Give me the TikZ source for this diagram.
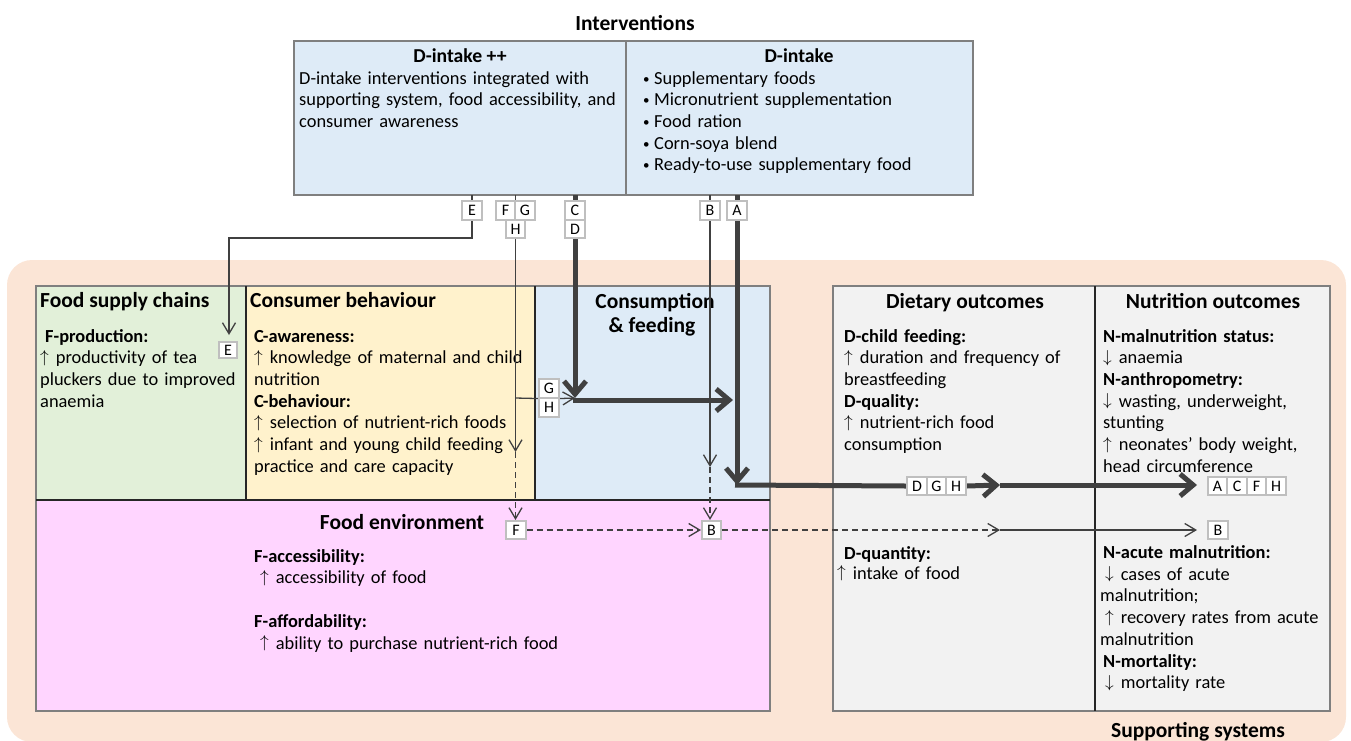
\documentclass[tikz,border=0pt]{standalone}
\usepackage{fontspec}
\setmainfont{Carlito}
\usetikzlibrary{arrows.meta}
\definecolor{supportpeach}{HTML}{FBE5D6}
\definecolor{chaingreen}{HTML}{E2F0D9}
\definecolor{behavyellow}{HTML}{FFF2CC}
\definecolor{feedblue}{HTML}{DEEBF7}
\definecolor{envpink}{HTML}{FFD5FF}
\definecolor{outcomegray}{HTML}{F2F2F2}
\definecolor{frameline}{HTML}{7F7F7F}
\definecolor{divline}{HTML}{262626}
\definecolor{linkline}{HTML}{404040}
\definecolor{tagline}{HTML}{BFBFBF}
% thin, tall arrows used in front of each effect
\newcommand\uparr{\raisebox{1.5pt}{$\uparrow$}\hspace{7pt}}
\newcommand\downarr{\raisebox{1.5pt}{$\downarrow$}\hspace{7pt}}
\newcommand\bul{\makebox[11pt][l]{\fontsize{13}{13}\selectfont\raisebox{1pt}{•}}}
\pgfdeclarelayer{back}
\pgfdeclarelayer{front}
\pgfsetlayers{back,main,front}
\tikzset{
  panel/.style={draw=frameline, line width=1.8pt, anchor=north west, inner sep=0pt, outer sep=0pt},
  head/.style={font=\bfseries\fontsize{21.5}{24.5}\selectfont, inner sep=0pt, anchor=base},
  subhead/.style={font=\bfseries\fontsize{19.7}{22}\selectfont, inner sep=0pt, anchor=base},
  body/.style={font=\fontsize{18.4}{21.7}\selectfont, inner sep=0pt, align=left, text width=#1, anchor=base west},
  body/.default=300pt,
  tag/.style={draw=tagline, line width=1.6pt, fill=white, minimum width=19.5pt, minimum height=18.5pt, inner sep=0pt, font=\fontsize{16}{16}\selectfont},
  thinlink/.style={draw=linkline, line width=1.3pt},
  dashedlink/.style={thinlink, dash pattern=on 6pt off 4pt},
  boldlink/.style={draw=linkline, line width=5pt},
  thintip/.style={-{Straight Barb[length=11pt,width=13pt]}},
  boldtip/.style={-{Straight Barb[length=13pt,width=22pt]}},
  divider/.style={draw=divline, line width=1.8pt}
}
\begin{document}
\begin{tikzpicture}[x=1pt,y=-1pt]
\useasboundingbox (0,0) rectangle (1351,740);

% ---------- panels ----------
\begin{pgfonlayer}{back}
\fill[supportpeach, rounded corners=25pt] (7,260) rectangle (1346,742);
\node[panel, fill=chaingreen, minimum width=210pt, minimum height=214pt] (chain) at (36,286) {};
\node[panel, fill=behavyellow, minimum width=289pt, minimum height=214pt] (behav) at (246,286) {};
\node[panel, fill=feedblue, minimum width=235pt, minimum height=214pt] (feed) at (535,286) {};
\node[panel, fill=envpink, minimum width=734pt, minimum height=211pt] (env) at (36,500) {};
\node[panel, fill=outcomegray, minimum width=262pt, minimum height=425pt] (diet) at (833,286) {};
\node[panel, fill=outcomegray, minimum width=235pt, minimum height=425pt] (nutr) at (1095,286) {};
\draw[divider] (chain.north east) -- (chain.south east);
\draw[divider] (behav.north east) -- (behav.south east);
\draw[divider] (env.north west) -- (env.north east);
\draw[divider] (diet.north east) -- (diet.south east);
% interventions box
\node[panel, fill=feedblue, minimum width=332pt, minimum height=154pt] (ivl) at (294,41) {};
\node[panel, fill=feedblue, minimum width=347pt, minimum height=154pt] (ivr) at (626,41) {};
\end{pgfonlayer}

% ---------- texts ----------
\node[head] (ivtitle) at (635,30) {Interventions};
\node[subhead] (ivlhead) at (460,62) {D-intake ++};
\node[subhead] (ivrhead) at (799,62) {D-intake};
\node[body=330pt] (ivltext) at (299,84) {D-intake interventions integrated with\\supporting system, food accessibility, and\\consumer awareness};
\node[body=320pt] (ivrtext) at (643,84) {\bul Supplementary foods\\\bul Micronutrient supplementation\\\bul Food ration\\\bul Corn-soya blend\\\bul Ready-to-use supplementary food};

\node[head, anchor=base west] (chainhead) at (40,307) {Food supply chains};
\node[head, anchor=base west] (behavhead) at (250,307) {Consumer behaviour};
\node[head] (feedheada) at (655,308) {Consumption};
\node[head] (feedheadb) at (652,332) {\& feeding};
\node[head] (diethead) at (965,308) {Dietary outcomes};
\node[head] (nutrhead) at (1213,308) {Nutrition outcomes};
\node[head] (envhead) at (402,529) {Food environment};
\node[head] (supphead) at (1198,737) {Supporting systems};

\node[body=205pt] (chaintext) at (40,342) {\hspace*{5pt}\textbf{F-production:}\\\uparr productivity of tea\\pluckers due to improved\\anaemia};
\node[body=285pt] (behavtext) at (254,342) {\textbf{C-awareness:}\\\uparr knowledge of maternal and child\\nutrition\\\textbf{C-behaviour:}\\\uparr selection of nutrient-rich foods\\\uparr infant and young child feeding\\practice and care capacity};
\node[body=255pt] (diettext) at (844,342) {\textbf{D-child feeding:}\\\uparr duration and frequency of\\breastfeeding\\\textbf{D-quality:}\\\uparr nutrient-rich food\\consumption};
\node[body=255pt] (dietqty) at (844,559) {\textbf{D-quantity:}};
\node[body=255pt] (dietqtytext) at (837,579) {\uparr intake of food};
\node[body=230pt] (nutrtext) at (1103,342) {\textbf{N-malnutrition status:}\\\downarr anaemia\\\textbf{N-anthropometry:}\\\downarr wasting, underweight,\\stunting\\\uparr neonates' body weight,\\head circumference};
\node[body=232pt] (nutrlow) at (1100,558.5) {\hspace*{3pt}\textbf{N-acute malnutrition:}\\\hspace*{5pt}\downarr cases of acute\\malnutrition;\\\hspace*{5pt}\uparr recovery rates from acute\\malnutrition\\\hspace*{3pt}\textbf{N-mortality:}\\\hspace*{5pt}\downarr mortality rate};
\node[body=400pt] (envtext) at (254,562) {\textbf{F-accessibility:}\\\hspace*{6pt}\uparr accessibility of food\\[22pt]\textbf{F-affordability:}\\\hspace*{6pt}\uparr ability to purchase nutrient-rich food};

% ---------- pathway tags ----------
\begin{pgfonlayer}{front}
\node[tag] (tE) at (472,210.5) {E};
\node[tag] (tF) at (505.5,210.5) {F};
\node[tag] (tG) at (525,210.5) {G};
\node[tag] (tH) at (515.5,229) {H};
\node[tag] (tC) at (575,210.5) {C};
\node[tag] (tD) at (575,229) {D};
\node[tag] (tB) at (710,210.5) {B};
\node[tag] (tA) at (737,210.5) {A};
\node[tag, minimum width=18pt, minimum height=16pt] (tE2) at (228,350) {E};
\node[tag] (tG2) at (549,388.5) {G};
\node[tag] (tH2) at (549,407.5) {H};
\node[tag] (tF2) at (516,530) {F};
\node[tag] (tB2) at (711.5,530) {B};
\node[tag] (tD3) at (917,486) {D};
\node[tag] (tG3) at (936.5,486) {G};
\node[tag] (tH3) at (956,486) {H};
\node[tag] (tA4) at (1217.5,486) {A};
\node[tag] (tC4) at (1237,486) {C};
\node[tag] (tF4) at (1256.5,486) {F};
\node[tag] (tH4) at (1276,486) {H};
\node[tag] (tB4) at (1218,530) {B};
\end{pgfonlayer}

% ---------- connectors ----------
\coordinate (eBend) at (229,238);
\coordinate (eTip) at (229,335);
\draw[thinlink, thintip] (tE |- ivl.south) -- (tE |- eBend) -- (eBend) -- (eTip);

\coordinate (fghJoin) at (515.5,398);
\coordinate (fghTip) at (515.5,452);
\coordinate (cdTip) at (575,398);
\draw[thinlink, thintip] (tH |- ivl.south) -- (fghTip);
\draw[thinlink] (fghJoin) -- (tG2.south west);
\draw[thinlink, thintip] (tG2.south east) -- (cdTip);
\draw[dashedlink, thintip] (fghTip) -- (fghTip |- tF2.north);

\coordinate (feedStart) at (573,400);
\coordinate (feedTip) at (733,400);
\draw[boldlink, boldtip] (tC |- ivl.south) -- (cdTip);
\draw[boldlink, boldtip] (feedStart) -- (feedTip);

\coordinate (bTip) at (710,467);
\coordinate (midTip) at (1000,485);
\coordinate (rowTip) at (1197,485);
\draw[thinlink, thintip] (tB |- ivl.south) -- (bTip);
\draw[dashedlink, thintip] (bTip) -- (bTip |- tB2.north);
\draw[dashedlink, thintip] (tF2.east) -- (tB2.west);
\draw[dashedlink, thintip] (tB2.east) -- (tB2.east -| midTip);
\draw[thinlink, thintip] (tB2.east -| midTip) -- (tB2.east -| rowTip);

\coordinate (aTip) at (737,485);
\coordinate (aStart) at (735,485);
\draw[boldlink, boldtip] (tA |- ivl.south) -- (aTip);
\draw[boldlink] (aStart) -- (tD3.west);
\draw[boldlink, boldtip] (tH3.east) -- (midTip);
\draw[boldlink, boldtip] (midTip) -- (rowTip);
\end{tikzpicture}
\end{document}
